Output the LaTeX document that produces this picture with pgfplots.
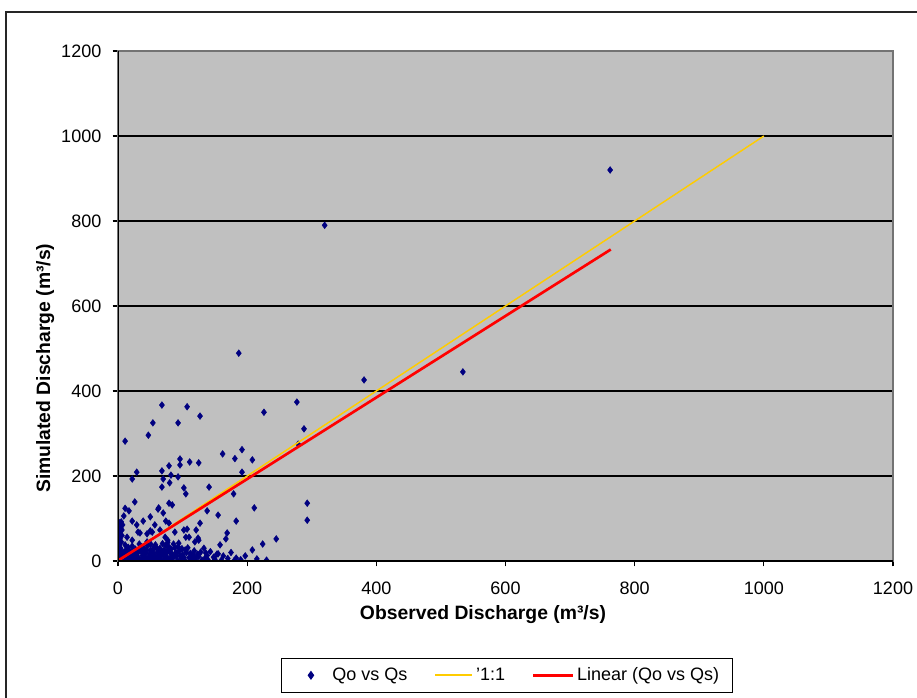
\documentclass[border=0pt]{standalone}
\usepackage{pgfplots}
\pgfplotsset{compat=1.18}
\usepackage{fontspec}
\setmainfont{Liberation Sans}
\definecolor{plotgray}{HTML}{C0C0C0}
\definecolor{navy}{HTML}{000080}
\definecolor{gold}{HTML}{FFCC00}
\begin{document}
\begin{tikzpicture}
\useasboundingbox (0,0) rectangle (687.75pt,-522.75pt);
\draw[black!85, line width=0.8pt] (4.5pt,-600pt) -- (4.5pt,-9pt) -- (720pt,-9pt);
\begin{axis}[
  at={(88.5pt,-420.75pt)}, anchor=south west,
  scale only axis, width=581.25pt, height=382.5pt,
  xmin=0, xmax=1200, ymin=0, ymax=1200,
  xtick={0,200,...,1200}, ytick={0,200,...,1200},
  axis background/.style={fill=plotgray},
  ymajorgrids, major grid style={black, line width=0.8pt},
  axis line style={draw=black!55, line width=1pt},
  tick pos=lower, tick align=outside, major tick length=4pt,
  tick style={black, line width=0.8pt},
  /pgf/number format/assume math mode=true,
  /pgf/number format/1000 sep={},
  ticklabel style={font=\fontsize{13.5pt}{15pt}\selectfont},
  yticklabel style={xshift=-5pt},
  xticklabel style={yshift=-8pt},
  xlabel={\textbf{Observed Discharge  (m³/s)}},
  ylabel={\textbf{Simulated Discharge  (m³/s)}},
  label style={font=\fontsize{14.5pt}{16pt}\selectfont},
  xlabel style={at={(axis description cs:0.471,-0.104)}, anchor=center},
  ylabel style={at={(axis description cs:-0.094,0.378)}, anchor=center, rotate=0},
  legend columns=3,
  legend style={at={(axis description cs:0.502,-0.190)}, anchor=north,
    draw=black, line width=0.8pt, fill=white,
    font=\fontsize{13.5pt}{15pt}\selectfont,
    inner xsep=8pt, inner ysep=5pt,
    /tikz/every even column/.append style={column sep=18pt}},
  clip marker paths=true,
]
\addplot[only marks, mark=diamond*, mark size=2.5pt, color=navy,
  legend image code/.code={\path[draw=none, fill=none] (0pt,-3pt) rectangle (28pt,3pt); \fill[navy] (14pt,2.8pt) -- (16pt,0pt) -- (14pt,-2.8pt) -- (12pt,0pt) -- cycle;}] table[row sep=\\] {
x y\\
762 920\\ 320 790\\ 187 489\\ 381 426\\ 534 445\\ 277 374\\ 288 311\\ 279 275\\
293 136\\ 293 96\\ 226 350\\ 162 252\\ 192 262\\ 181 241\\ 208 238\\ 192 209\\
141 174\\ 179 158\\ 138 118\\ 211 125\\ 155 108\\ 183 94\\ 169 66\\ 167 52\\
158 38\\ 224 40\\ 245 52\\ 136 19\\ 153 16\\ 208 26\\ 197 12\\ 183 7\\
68 367\\ 107 363\\ 127 341\\ 54 325\\ 93 325\\ 47 296\\ 11 282\\ 96 240\\
111 233\\ 125 231\\ 96 226\\ 79 224\\ 68 212\\ 29 209\\ 82 202\\ 93 198\\
70 193\\ 22 193\\ 80 184\\ 68 174\\ 102 172\\ 105 158\\ 26 139\\ 79 136\\
84 132\\ 62 122\\ 17 118\\ 9 106\\ 50 104\\ 70 113\\ 74 94\\ 39 94\\
22 94\\ 127 89\\ 107 75\\ 121 73\\ 65 73\\ 50 71\\ 31 68\\ 45 64\\
124 54\\ 105 56\\ 77 49\\ 125 49\\ 104 26\\ 82 28\\ 91 19\\ 119 7\\
11 124\\ 63 125\\ 57 85\\ 29 85\\ 79 89\\ 53 68\\ 34 66\\ 88 68\\
73 56\\ 102 73\\ 110 56\\ 119 45\\ 94 42\\ 115 9\\ 84 14\\ 57 33\\
45 45\\ 14 56\\ 6 73\\ 22 49\\ 11 38\\
1 2\\ 2 5\\ 0.5 10\\ 3 15\\ 1 22\\ 4 30\\ 2 38\\ 5 45\\ 3 52\\ 6 60\\
2 68\\ 4 78\\ 7 85\\ 5 92\\ 8 20\\ 6 8\\ 9 3\\ 10 12\\ 12 25\\ 14 5\\
15 18\\ 16 32\\ 18 10\\ 20 2\\ 20 22\\ 22 35\\ 24 14\\ 25 6\\ 27 28\\ 28 1\\
30 18\\ 31 9\\ 33 40\\ 35 24\\ 36 4\\ 38 13\\ 40 30\\ 42 7\\ 43 19\\ 45 2\\
46 36\\ 48 11\\ 50 25\\ 52 4\\ 53 16\\ 55 29\\ 57 8\\ 58 38\\ 60 1\\ 61 20\\
63 12\\ 65 30\\ 66 5\\ 68 22\\ 70 14\\ 72 3\\ 74 35\\ 76 9\\ 78 26\\ 80 2\\
82 17\\ 85 7\\ 88 31\\ 90 12\\ 92 1\\ 95 24\\ 98 6\\ 100 15\\ 103 3\\ 106 20\\
110 8\\ 113 2\\ 116 14\\ 120 4\\ 125 11\\ 130 2\\ 135 7\\ 140 1\\ 150 4\\ 160 2\\
170 6\\ 180 1\\
3 3\\ 5 6\\ 7 12\\ 9 17\\ 11 8\\ 13 14\\ 15 28\\ 17 4\\ 19 16\\ 21 11\\
23 24\\ 26 19\\ 29 8\\ 32 27\\ 34 2\\ 37 33\\ 39 21\\ 41 15\\ 44 26\\ 47 6\\
49 17\\ 51 39\\ 54 21\\ 56 14\\ 59 32\\ 62 26\\ 64 7\\ 67 17\\ 69 41\\ 71 25\\
73 10\\ 75 19\\ 77 44\\ 79 33\\ 81 21\\ 83 10\\ 86 40\\ 89 19\\ 93 34\\ 96 12\\
99 29\\ 102 9\\ 108 31\\ 112 18\\ 118 24\\ 123 16\\ 128 21\\ 133 30\\ 138 13\\ 143 22\\
148 9\\ 155 17\\ 163 12\\ 175 20\\ 190 3\\ 215 5\\ 230 2\\
0 0\\ 1 0.5\\ 0.5 4\\ 2 8\\ 1 13\\ 3 26\\ 1 33\\ 2 47\\ 0.5 55\\ 3 63\\ 1 75\\ 2 90\\
};
\addlegendentry{Qo vs Qs}
\addplot[color=gold, line width=1.1pt, legend image code/.code={\draw[draw=gold, line width=1.6pt] (0pt,0pt) -- (28pt,0pt);}] coordinates {(0,0) (1000,1000)};
\addlegendentry{'1:1}
\addplot[color=red, line width=2pt, legend image code/.code={\draw[draw=red, line width=2pt] (0pt,0pt) -- (30pt,0pt);}] coordinates {(0,1) (763,733)};
\addlegendentry{Linear (Qo vs Qs)}
\draw[black, line width=1pt] (rel axis cs:0,1) -- (rel axis cs:0,0) -- (rel axis cs:1,0);
\end{axis}
\end{tikzpicture}
\end{document}
